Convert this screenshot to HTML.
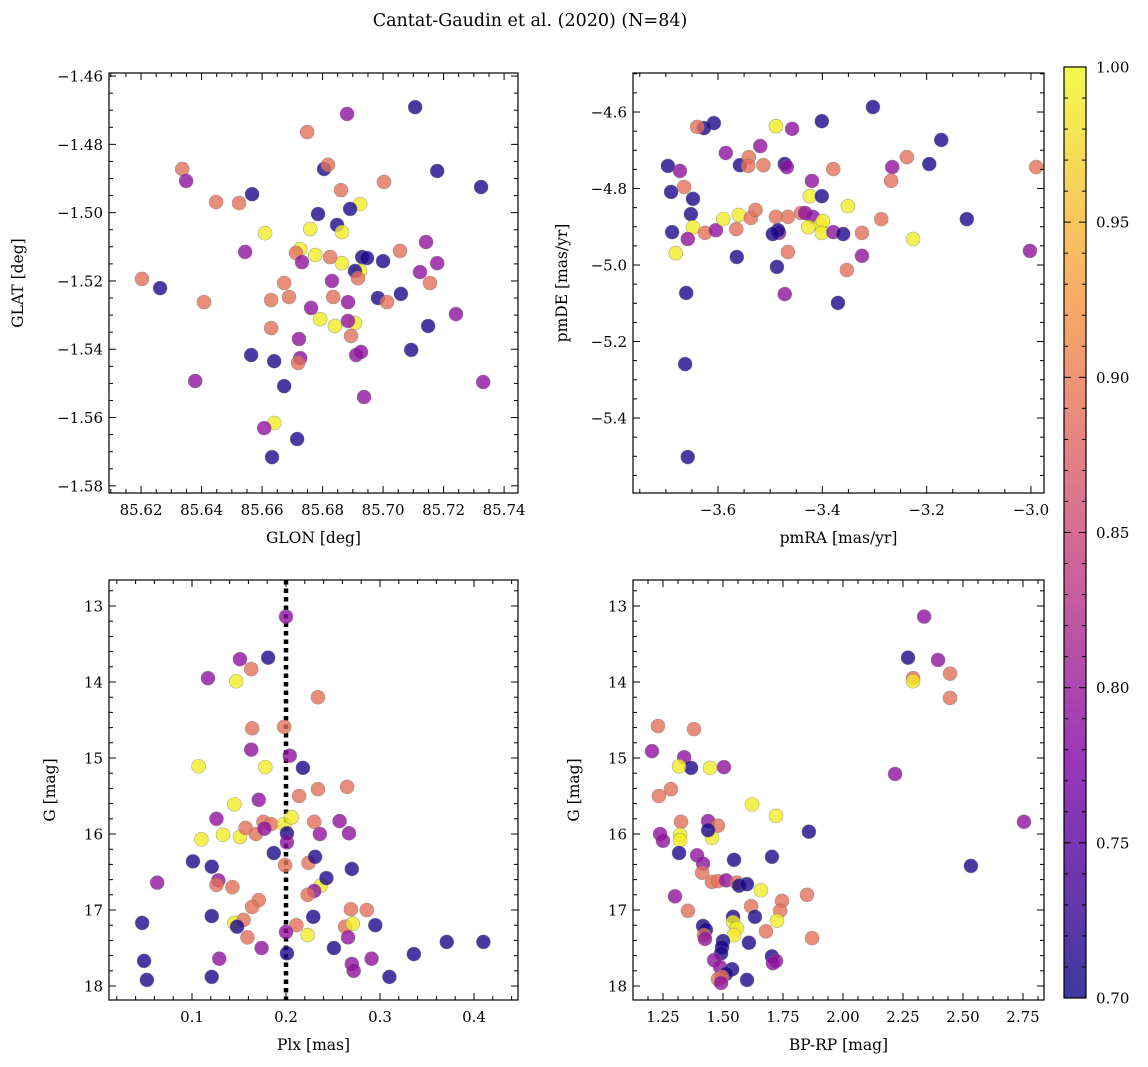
<!DOCTYPE html>
<html><head><meta charset="utf-8"><style>
body{margin:0;background:#fff;}
svg{display:block;font-family:"DejaVu Serif","Liberation Serif",serif;}
</style></head><body>
<svg id="chart" width="1148" height="1067" xmlns="http://www.w3.org/2000/svg">
<text x="530" y="26" text-anchor="middle" font-size="17.5">Cantat-Gaudin et al. (2020) (N=84)</text>
</svg>
<script>
// Panel 1: GLON vs GLAT
const p1Glon=[85.7106,85.6881,85.6749,85.6336,85.6349,85.6805,85.6818,85.7179,85.7324,85.6861,85.7003,85.6448,85.6524,85.6567,85.6924,85.6891,85.6785,85.6610,85.6759,85.6848,85.6864,85.6726,85.6776,85.6712,85.6544,85.6732,85.7142,85.7056,85.7000,85.6864,85.6825,85.6931,85.6947,85.6924,85.6907,85.7179,85.7122,85.6673,85.6831,85.6917,85.7155,85.6203,85.6263,85.6689,85.6835,85.6983,85.7013,85.7059,85.6884,85.6762,85.6841,85.6792,85.6907,85.6884,85.7241,85.6408,85.6630,85.6630,85.7149,85.6722,85.6894,85.7093,85.6564,85.6640,85.6726,85.6719,85.6911,85.6927,85.6379,85.6673,85.7331,85.6937,85.6640,85.6607,85.6716,85.6633];
const p1Glat=[-1.4691,-1.4711,-1.4764,-1.4872,-1.4907,-1.4872,-1.4860,-1.4878,-1.4925,-1.4934,-1.4910,-1.4969,-1.4972,-1.4946,-1.4975,-1.4989,-1.5004,-1.5060,-1.5048,-1.5036,-1.5057,-1.5107,-1.5124,-1.5118,-1.5115,-1.5145,-1.5086,-1.5112,-1.5142,-1.5148,-1.5130,-1.5130,-1.5133,-1.5171,-1.5171,-1.5148,-1.5174,-1.5206,-1.5200,-1.5192,-1.5206,-1.5194,-1.5221,-1.5247,-1.5247,-1.5250,-1.5262,-1.5238,-1.5262,-1.5279,-1.5332,-1.5312,-1.5323,-1.5317,-1.5297,-1.5262,-1.5256,-1.5338,-1.5332,-1.5370,-1.5361,-1.5402,-1.5417,-1.5435,-1.5426,-1.5440,-1.5417,-1.5408,-1.5493,-1.5508,-1.5496,-1.5540,-1.5616,-1.5631,-1.5663,-1.5716];
const p1Prob=[0.71,0.79,0.89,0.89,0.79,0.71,0.89,0.71,0.71,0.89,0.89,0.89,0.89,0.71,0.99,0.71,0.71,0.99,0.99,0.71,0.99,0.99,0.99,0.89,0.79,0.79,0.79,0.89,0.71,0.99,0.89,0.71,0.71,0.99,0.71,0.79,0.79,0.89,0.79,0.89,0.89,0.89,0.71,0.89,0.89,0.71,0.89,0.71,0.79,0.79,0.99,0.99,0.99,0.79,0.79,0.89,0.89,0.89,0.71,0.79,0.89,0.71,0.71,0.71,0.79,0.89,0.79,0.79,0.79,0.71,0.79,0.79,0.99,0.79,0.71,0.71];
// Panel 2: pmRA vs pmDE
const p2Pmra=[-3.303,-3.401,-3.608,-3.627,-3.640,-3.489,-3.458,-3.172,-3.519,-3.585,-3.696,-3.558,-3.541,-3.542,-3.513,-3.472,-3.468,-3.379,-3.266,-3.195,-3.238,-2.990,-3.673,-3.690,-3.665,-3.420,-3.268,-3.351,-3.424,-3.401,-3.648,-3.688,-3.652,-3.648,-3.658,-3.625,-3.604,-3.560,-3.565,-3.537,-3.528,-3.489,-3.466,-3.441,-3.433,-3.418,-3.404,-3.399,-3.427,-3.401,-3.379,-3.360,-3.324,-3.287,-3.226,-3.123,-3.483,-3.485,-3.495,-3.590,-3.681,-3.564,-3.466,-3.487,-3.324,-3.002,-3.353,-3.472,-3.661,-3.370,-3.663,-3.658];
const p2Pmde=[-4.587,-4.624,-4.629,-4.642,-4.639,-4.637,-4.644,-4.673,-4.689,-4.707,-4.741,-4.739,-4.718,-4.741,-4.739,-4.736,-4.744,-4.749,-4.744,-4.736,-4.718,-4.744,-4.754,-4.809,-4.796,-4.780,-4.780,-4.846,-4.820,-4.820,-4.827,-4.914,-4.867,-4.901,-4.932,-4.916,-4.909,-4.869,-4.906,-4.877,-4.856,-4.874,-4.874,-4.864,-4.864,-4.874,-4.895,-4.885,-4.901,-4.916,-4.914,-4.919,-4.916,-4.880,-4.932,-4.880,-4.916,-4.909,-4.919,-4.880,-4.969,-4.979,-4.966,-5.005,-4.976,-4.963,-5.013,-5.076,-5.073,-5.099,-5.259,-5.502];
const p2Prob=[0.71,0.71,0.71,0.71,0.89,0.99,0.79,0.71,0.79,0.79,0.71,0.71,0.89,0.89,0.89,0.71,0.79,0.89,0.79,0.71,0.89,0.89,0.79,0.71,0.89,0.79,0.89,0.99,0.99,0.71,0.71,0.71,0.71,0.99,0.79,0.89,0.79,0.99,0.89,0.89,0.89,0.89,0.89,0.89,0.79,0.79,0.99,0.99,0.99,0.99,0.79,0.71,0.89,0.89,0.99,0.71,0.79,0.71,0.71,0.99,0.99,0.71,0.89,0.71,0.79,0.79,0.89,0.79,0.71,0.71,0.71,0.71];
// Panel 3: Plx vs G
const p3Plx=[0.200,0.151,0.181,0.117,0.163,0.147,0.234,0.164,0.198,0.163,0.204,0.107,0.178,0.218,0.214,0.234,0.145,0.171,0.126,0.110,0.133,0.151,0.157,0.168,0.176,0.184,0.177,0.198,0.206,0.201,0.201,0.230,0.236,0.224,0.199,0.187,0.231,0.101,0.121,0.063,0.128,0.126,0.143,0.237,0.230,0.171,0.164,0.223,0.243,0.047,0.121,0.145,0.155,0.148,0.159,0.211,0.229,0.223,0.200,0.174,0.129,0.049,0.052,0.121,0.201,0.251,0.263,0.269,0.271,0.266,0.286,0.295,0.291,0.270,0.272,0.310,0.336,0.371,0.410,0.265,0.257,0.267,0.270];
const p3G=[13.14,13.70,13.68,13.95,13.83,13.99,14.20,14.61,14.59,14.89,14.97,15.11,15.12,15.13,15.50,15.41,15.61,15.55,15.80,16.07,16.01,16.04,15.92,16.00,15.84,15.87,15.93,15.87,15.78,15.99,16.11,15.84,16.00,16.38,16.41,16.25,16.30,16.36,16.43,16.64,16.61,16.67,16.70,16.68,16.75,16.87,16.96,16.80,16.58,17.17,17.08,17.17,17.13,17.22,17.36,17.20,17.09,17.33,17.29,17.50,17.64,17.67,17.92,17.88,17.57,17.50,17.22,16.99,17.18,17.36,17.00,17.20,17.64,17.71,17.80,17.88,17.58,17.42,17.42,15.38,15.83,15.99,16.46];
const p3Prob=[0.79,0.79,0.71,0.79,0.89,0.99,0.89,0.89,0.89,0.79,0.79,0.99,0.99,0.71,0.89,0.89,0.99,0.79,0.79,0.99,0.99,0.99,0.89,0.89,0.89,0.89,0.79,0.99,0.99,0.71,0.79,0.89,0.79,0.89,0.89,0.71,0.71,0.71,0.71,0.79,0.79,0.89,0.89,0.99,0.79,0.89,0.89,0.89,0.71,0.71,0.71,0.99,0.89,0.71,0.89,0.89,0.71,0.99,0.79,0.79,0.79,0.71,0.71,0.71,0.71,0.71,0.89,0.89,0.99,0.79,0.89,0.71,0.79,0.79,0.79,0.71,0.71,0.71,0.71,0.89,0.79,0.79,0.71];
// Panel 4: BP-RP vs G
const p4Bprp=[2.338,2.271,2.396,2.292,2.292,2.446,2.446,2.217,2.754,2.533,1.229,1.379,1.204,1.338,1.367,1.317,1.446,1.504,1.283,1.233,1.621,1.721,1.858,1.238,1.250,1.325,1.321,1.321,1.317,1.438,1.479,1.454,1.438,1.546,1.704,1.392,1.417,1.413,1.454,1.479,1.513,1.558,1.567,1.600,1.658,1.617,1.746,1.850,1.738,1.300,1.354,1.542,1.633,1.542,1.558,1.725,1.417,1.429,1.421,1.425,1.546,1.679,1.871,1.500,1.496,1.608,1.492,1.463,1.704,1.721,1.708,1.488,1.538,1.513,1.479,1.496,1.600,1.492];
const p4G=[13.14,13.68,13.71,13.95,13.99,13.89,14.21,15.21,15.84,16.42,14.58,14.62,14.91,14.99,15.13,15.11,15.13,15.12,15.41,15.50,15.61,15.76,15.97,16.00,16.09,15.84,16.01,16.08,16.25,15.83,15.89,16.05,15.95,16.34,16.30,16.28,16.39,16.51,16.63,16.62,16.61,16.64,16.68,16.66,16.74,16.95,16.88,16.80,17.01,16.82,17.01,17.09,17.09,17.16,17.24,17.14,17.21,17.26,17.33,17.38,17.33,17.28,17.37,17.41,17.49,17.43,17.57,17.66,17.61,17.67,17.70,17.75,17.78,17.84,17.91,17.88,17.92,17.96];
const p4Prob=[0.79,0.71,0.79,0.89,0.99,0.89,0.89,0.79,0.79,0.71,0.89,0.89,0.79,0.79,0.71,0.99,0.99,0.79,0.89,0.89,0.99,0.99,0.71,0.79,0.79,0.89,0.99,0.99,0.71,0.79,0.89,0.99,0.71,0.71,0.71,0.79,0.79,0.89,0.89,0.89,0.79,0.89,0.71,0.71,0.99,0.89,0.89,0.89,0.89,0.79,0.89,0.71,0.71,0.99,0.99,0.99,0.71,0.71,0.89,0.79,0.99,0.89,0.89,0.71,0.71,0.71,0.71,0.79,0.71,0.79,0.79,0.79,0.71,0.71,0.89,0.89,0.71,0.79];
const cbTicks=[0.70,0.75,0.80,0.85,0.90,0.95,1.00];

const NS='http://www.w3.org/2000/svg';
const svg=document.getElementById('chart');
function mk(tag,attrs,parent){const e=document.createElementNS(NS,tag);for(const k in attrs)e.setAttribute(k,attrs[k]);(parent||svg).appendChild(e);return e;}
const stops=[[0,[13,8,135]],[0.25,[126,3,168]],[0.5,[204,71,120]],[0.75,[248,149,64]],[1,[240,249,33]]];
function plasma(v){let t=Math.max(0,Math.min(1,(v-0.7)/0.3));for(let i=0;i<4;i++){const a=stops[i],b=stops[i+1];if(t<=b[0]){const f=(t-a[0])/(b[0]-a[0]);return 'rgb('+a[1].map((c,j)=>Math.round(c+(b[1][j]-c)*f)).join(',')+')';}}return 'rgb(240,249,33)';}

function panel(o){
  const g=mk('g',{});
  
  
  const sx=v=>o.x0+(v-o.xmin)/(o.xmax-o.xmin)*(o.x1-o.x0);
  const sy=o.inv?(v=>o.y0+(v-o.ymin)/(o.ymax-o.ymin)*(o.y1-o.y0)):(v=>o.y1-(v-o.ymin)/(o.ymax-o.ymin)*(o.y1-o.y0));
  if(o.vline!==undefined){const l=mk('line',{x1:sx(o.vline),x2:sx(o.vline),y1:o.y0,y2:o.y1,stroke:'#000','stroke-width':4.5,'stroke-dasharray':'4.5 4'},g);}
  for(let i=0;i<o.xs.length;i++){
    const c=mk('circle',{cx:sx(o.xs[i]),cy:sy(o.ys[i]),r:7,fill:plasma(o.ps[i]),'fill-opacity':0.8,stroke:'#777','stroke-opacity':0.6,'stroke-width':0.6},g);
    
    
  }
  const fr=mk('rect',{x:o.x0,y:o.y0,width:o.x1-o.x0,height:o.y1-o.y0,fill:'none',stroke:'#000','stroke-width':1.2},g);
  
  
  const eps=1e-9;
  for(let v=Math.ceil((o.xmin)/o.xmn-eps)*o.xmn;v<=o.xmax+eps;v+=o.xmn){
    const major=Math.abs(v/o.xmj-Math.round(v/o.xmj))<1e-4;const L=major?7:4;const X=sx(v);
    mk('line',{x1:X,x2:X,y1:o.y1,y2:o.y1-L,stroke:'#000','stroke-width':1},g);
    mk('line',{x1:X,x2:X,y1:o.y0,y2:o.y0+L,stroke:'#000','stroke-width':1},g);
    if(major){const t=mk('text',{x:X,y:o.y1+22,'text-anchor':'middle','font-size':15},g);t.textContent=(Math.round(v/o.xmj)*o.xmj).toFixed(o.xd).replace('-','\u2212');
      
      }
  }
  for(let v=Math.ceil((o.ymin)/o.ymn-eps)*o.ymn;v<=o.ymax+eps;v+=o.ymn){
    const major=Math.abs(v/o.ymj-Math.round(v/o.ymj))<1e-4;const L=major?7:4;const Y=sy(v);
    mk('line',{x1:o.x0,x2:o.x0+L,y1:Y,y2:Y,stroke:'#000','stroke-width':1},g);
    mk('line',{x1:o.x1,x2:o.x1-L,y1:Y,y2:Y,stroke:'#000','stroke-width':1},g);
    if(major){const t=mk('text',{x:o.x0-6,y:Y+5.5,'text-anchor':'end','font-size':15},g);t.textContent=(Math.round(v/o.ymj)*o.ymj).toFixed(o.yd).replace('-','\u2212');
      
      }
  }
  const xt=mk('text',{x:(o.x0+o.x1)/2,y:o.y1+50,'text-anchor':'middle','font-size':15.5},g);xt.textContent=o.xl;
  
  
  const yx=o.x0-o.ylo,yy=(o.y0+o.y1)/2;
  const yt=mk('text',{x:yx,y:yy,'text-anchor':'middle','font-size':15.5,transform:'rotate(-90 '+yx+' '+yy+')'},g);yt.textContent=o.yl;
  
  
}
panel({name:'glon-glat-panel',x0:109,x1:518,y0:73,y1:493,xmin:85.6094,xmax:85.7446,ymin:-1.5821,ymax:-1.4591,xmj:0.02,xmn:0.005,ymj:0.02,ymn:0.005,xd:2,yd:2,xs:p1Glon,ys:p1Glat,ps:p1Prob,xl:'GLON [deg]',yl:'GLAT [deg]',ylo:86});
panel({name:'pm-panel',x0:633,x1:1044,y0:73,y1:493,xmin:-3.763,xmax:-2.975,ymin:-5.596,ymax:-4.498,xmj:0.2,xmn:0.05,ymj:0.2,ymn:0.05,xd:1,yd:1,xs:p2Pmra,ys:p2Pmde,ps:p2Prob,xl:'pmRA [mas/yr]',yl:'pmDE [mas/yr]',ylo:66});
panel({name:'plx-g-panel',x0:109,x1:518,y0:580,y1:1000,xmin:0.0117,xmax:0.4468,ymin:12.658,ymax:18.184,inv:true,xmj:0.1,xmn:0.02,ymj:1,ymn:0.2,xd:1,yd:0,xs:p3Plx,ys:p3G,ps:p3Prob,xl:'Plx [mas]',yl:'G [mag]',ylo:54,vline:0.2});
panel({name:'color-g-panel',x0:633,x1:1044,y0:580,y1:1000,xmin:1.125,xmax:2.8375,ymin:12.658,ymax:18.184,inv:true,xmj:0.25,xmn:0.0625,ymj:1,ymn:0.2,xd:2,yd:0,xs:p4Bprp,ys:p4G,ps:p4Prob,xl:'BP-RP [mag]',yl:'G [mag]',ylo:54});

const cb=mk('g',{});


const defs=mk('defs',{},cb);const lg=mk('linearGradient',{id:'pl',x1:0,y1:1,x2:0,y2:0},defs);
for(let i=0;i<=20;i++){const v=0.7+0.3*i/20;mk('stop',{offset:i/20,'stop-color':plasma(v),'stop-opacity':0.8},lg);}
const cx0=1064,cx1=1086,cy0=67,cy1=998;
mk('rect',{x:cx0,y:cy0,width:cx1-cx0,height:cy1-cy0,fill:'url(#pl)',stroke:'#000','stroke-width':1.2},cb);
const cy=v=>cy1-(v-0.7)/0.3*(cy1-cy0);
for(let k=0;k<=30;k++){const v=0.7+k*0.01;const major=k%5===0;const Y=cy(v);
  mk('line',{x1:cx1,x2:cx1-(major?7:4),y1:Y,y2:Y,stroke:'#000','stroke-width':1},cb);
  mk('line',{x1:cx0,x2:cx0+(major?7:4),y1:Y,y2:Y,stroke:'#000','stroke-width':1},cb);}
cbTicks.forEach(v=>{const t=mk('text',{x:cx1+10,y:cy(v)+5.5,'font-size':15},cb);t.textContent=v.toFixed(2);
  
  });
</script>
</body></html>
